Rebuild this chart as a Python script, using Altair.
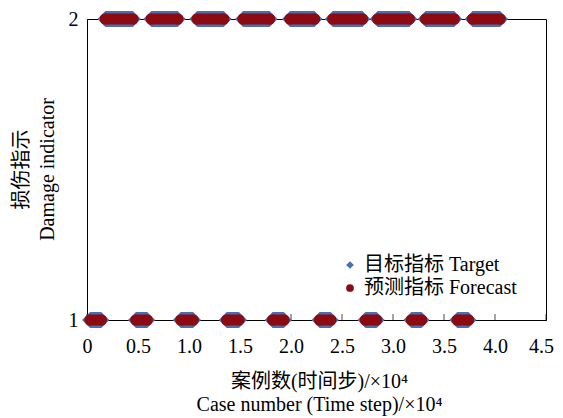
import altair as alt
import pandas as pd

# Segments (case number / 1e4) where indicator = 1 and = 2
lvl1_start = [0.03, 0.48, 0.92, 1.37, 1.82, 2.28, 2.73, 3.18, 3.63]
lvl1_end = [0.14, 0.59, 1.04, 1.49, 1.93, 2.39, 2.84, 3.28, 3.74]
lvl2_start = [0.18, 0.63, 1.08, 1.53, 1.99, 2.41, 2.85, 3.32, 3.78]
lvl2_end = [0.45, 0.89, 1.34, 1.79, 2.23, 2.70, 3.16, 3.60, 4.05]

x_ticks = [0, 0.5, 1.0, 1.5, 2.0, 2.5, 3.0, 3.5, 4.0, 4.5]
y_ticks = [1, 2]
series_names = ["目标指标 Target", "预测指标 Forecast"]
series_colors = ["#4A6FAF", "#8C0A12"]
series_shapes = ["diamond", "circle"]

FONT = "'Liberation Serif', 'Times New Roman', 'Noto Sans CJK SC', serif"

seg_df = pd.DataFrame({
    "x": lvl1_start + lvl2_start,
    "x2": lvl1_end + lvl2_end,
    "level": [1] * len(lvl1_start) + [2] * len(lvl2_start),
})
ends = pd.DataFrame({
    "x": list(seg_df["x"]) + list(seg_df["x2"]),
    "level": list(seg_df["level"]) * 2,
})
target_df = ends.assign(series=series_names[0])
forecast_df = ends.assign(series=series_names[1])
tick_df = pd.DataFrame({"x": x_ticks, "level": [1] * len(x_ticks)})

x_enc = alt.X(
    "x:Q",
    scale=alt.Scale(domain=[0, 4.5], nice=False, zero=False),
    axis=alt.Axis(
        values=x_ticks,
        labelExpr="datum.value == 0 ? '0' : format(datum.value, '.1f')",
        labelOffset={"condition": {"test": "datum.value >= 4.5", "value": -5}, "value": 0},
        ticks=False, grid=False, domainColor="black",
        labelFontSize=20, labelPadding=16, labelFlush=False, labelOverlap=False,
        labelColor="black",
        title=["案例数(时间步)/×10⁴", "Case number (Time step)/×10⁴"],
        titleFontSize=20, titleFontWeight="normal", titleColor="black",
        titleX=232, titleY=67, titleAlign="center", titleBaseline="alphabetic",
        titleLineHeight=23, zindex=0,
    ),
)
y_enc = alt.Y(
    "level:Q",
    scale=alt.Scale(domain=[1, 2], nice=False, zero=False),
    axis=alt.Axis(
        values=y_ticks, format="d", ticks=False, grid=False, domainColor="black",
        labelFontSize=20, labelPadding=9, labelColor="black",
        title=["损伤指示", "Damage indicator"],
        titleFontSize=20, titleFontWeight="normal", titleColor="black",
        titleX=-60, titleY=150, titleAngle=270, titleAlign="center",
        titleBaseline="alphabetic", titleLineHeight=26, zindex=0,
    ),
)

legend = alt.Legend(
    title=None, orient="none", legendX=253, legendY=236, padding=0,
    labelFontSize=20, labelColor="black", symbolSize=60, symbolStrokeWidth=0,
    labelOffset=4, rowPadding=3,
)
color_enc = alt.Color("series:N", scale=alt.Scale(domain=series_names, range=series_colors), legend=legend)
shape_enc = alt.Shape("series:N", scale=alt.Scale(domain=series_names, range=series_shapes), legend=legend)

ticks = alt.Chart(tick_df).mark_tick(
    orient="vertical", size=6, thickness=1, yOffset=-3, color="black"
).encode(x=x_enc, y=y_enc)

blue_band = alt.Chart(seg_df).mark_rule(
    strokeWidth=16, strokeCap="butt", color=series_colors[0]
).encode(x=x_enc, x2="x2:Q", y=y_enc)

blue_pts = alt.Chart(target_df).mark_point(
    filled=True, size=256, opacity=1, strokeWidth=0
).encode(x=x_enc, y=y_enc, color=color_enc, shape=shape_enc)

red_band = alt.Chart(seg_df).mark_rule(
    strokeWidth=11, strokeCap="round", color=series_colors[1]
).encode(x=x_enc, x2="x2:Q", y=y_enc)

red_pts = alt.Chart(forecast_df).mark_point(
    filled=True, size=121, opacity=1, strokeWidth=0
).encode(x=x_enc, y=y_enc, color=color_enc, shape=shape_enc)

chart = alt.layer(ticks, blue_band, blue_pts, red_band, red_pts).properties(
    width=459, height=301,
    autosize=alt.AutoSizeParams(type="none"),
    padding={"left": 79, "top": 11, "right": 9, "bottom": 98},
).configure(font=FONT).configure_view(
    stroke="black", strokeWidth=1
).configure_axis(labelFont=FONT, titleFont=FONT).configure_legend(labelFont=FONT)

chart.save("out.html", embed_options={"renderer": "svg", "actions": False})
